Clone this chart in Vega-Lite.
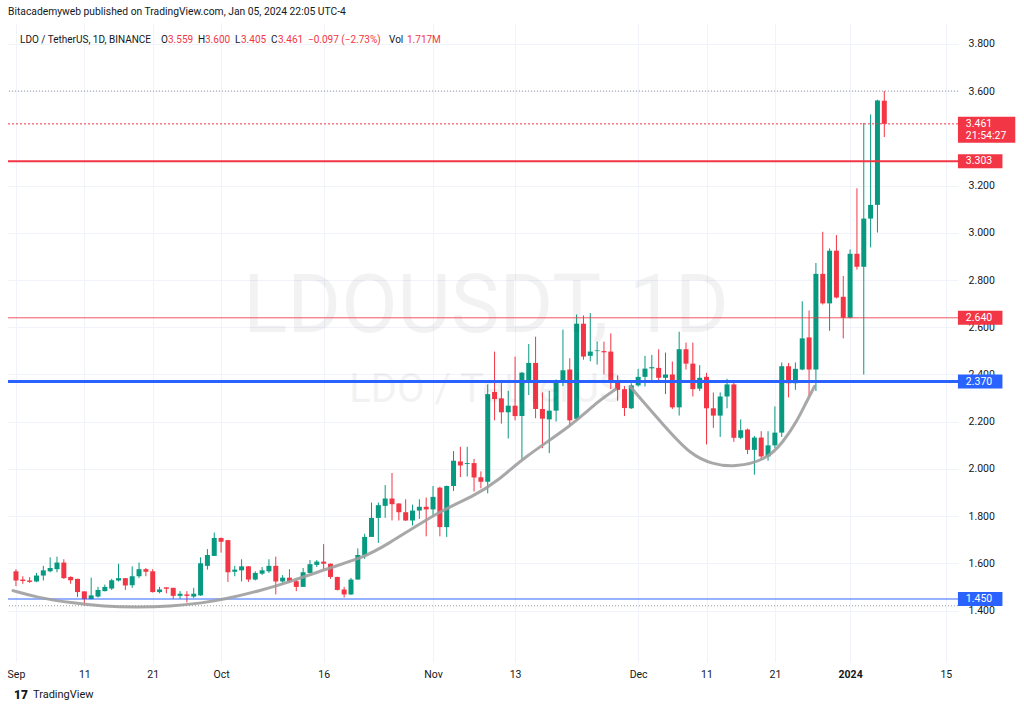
{
  "$schema": "https://vega.github.io/schema/vega-lite/v6.json",
  "width": 950,
  "height": 639,
  "autosize": {"type": "none"},
  "padding": {"left": 8, "top": 23, "right": 66, "bottom": 54},
  "background": "#ffffff",
  "config": {"view": {"stroke": null}, "font": "Roboto", "text": {"font": "Roboto"}},
  "title": {"text": "Bitacademyweb published on TradingView.com, Jan 05, 2024 22:05 UTC-4", "anchor": "start", "frame": "group", "fontSize": 10.3, "fontWeight": "normal", "color": "#131722", "offset": 6, "font": "Roboto"},
  "data": {"values": [{}]},
  "datasets": {
    "candles": [
      {"date":"2023-09-01","open":1.567,"high":1.576,"low":1.504,"close":1.528},
      {"date":"2023-09-02","open":1.532,"high":1.546,"low":1.514,"close":1.526},
      {"date":"2023-09-03","open":1.528,"high":1.542,"low":1.518,"close":1.522},
      {"date":"2023-09-04","open":1.524,"high":1.560,"low":1.521,"close":1.549},
      {"date":"2023-09-05","open":1.549,"high":1.590,"low":1.528,"close":1.571},
      {"date":"2023-09-06","open":1.567,"high":1.626,"low":1.563,"close":1.581},
      {"date":"2023-09-07","open":1.576,"high":1.629,"low":1.563,"close":1.604},
      {"date":"2023-09-08","open":1.604,"high":1.618,"low":1.535,"close":1.538},
      {"date":"2023-09-09","open":1.543,"high":1.546,"low":1.514,"close":1.529},
      {"date":"2023-09-10","open":1.535,"high":1.535,"low":1.458,"close":1.479},
      {"date":"2023-09-11","open":1.482,"high":1.482,"low":1.421,"close":1.449},
      {"date":"2023-09-12","open":1.449,"high":1.540,"low":1.449,"close":1.465},
      {"date":"2023-09-13","open":1.460,"high":1.501,"low":1.456,"close":1.488},
      {"date":"2023-09-14","open":1.483,"high":1.511,"low":1.482,"close":1.501},
      {"date":"2023-09-15","open":1.494,"high":1.535,"low":1.488,"close":1.529},
      {"date":"2023-09-16","open":1.528,"high":1.599,"low":1.524,"close":1.538},
      {"date":"2023-09-17","open":1.538,"high":1.538,"low":1.488,"close":1.507},
      {"date":"2023-09-18","open":1.508,"high":1.588,"low":1.497,"close":1.546},
      {"date":"2023-09-19","open":1.546,"high":1.604,"low":1.538,"close":1.576},
      {"date":"2023-09-20","open":1.576,"high":1.581,"low":1.546,"close":1.565},
      {"date":"2023-09-21","open":1.567,"high":1.576,"low":1.477,"close":1.479},
      {"date":"2023-09-22","open":1.479,"high":1.501,"low":1.474,"close":1.490},
      {"date":"2023-09-23","open":1.499,"high":1.499,"low":1.474,"close":1.493},
      {"date":"2023-09-24","open":1.497,"high":1.497,"low":1.451,"close":1.463},
      {"date":"2023-09-25","open":1.463,"high":1.483,"low":1.451,"close":1.472},
      {"date":"2023-09-26","open":1.469,"high":1.483,"low":1.435,"close":1.463},
      {"date":"2023-09-27","open":1.460,"high":1.497,"low":1.454,"close":1.472},
      {"date":"2023-09-28","open":1.465,"high":1.626,"low":1.463,"close":1.601},
      {"date":"2023-09-29","open":1.590,"high":1.661,"low":1.574,"close":1.636},
      {"date":"2023-09-30","open":1.632,"high":1.731,"low":1.632,"close":1.708},
      {"date":"2023-10-01","open":1.708,"high":1.710,"low":1.646,"close":1.692},
      {"date":"2023-10-02","open":1.699,"high":1.700,"low":1.522,"close":1.563},
      {"date":"2023-10-03","open":1.565,"high":1.590,"low":1.546,"close":1.574},
      {"date":"2023-10-04","open":1.571,"high":1.618,"low":1.524,"close":1.588},
      {"date":"2023-10-05","open":1.588,"high":1.589,"low":1.522,"close":1.532},
      {"date":"2023-10-06","open":1.532,"high":1.567,"low":1.528,"close":1.560},
      {"date":"2023-10-07","open":1.557,"high":1.585,"low":1.551,"close":1.571},
      {"date":"2023-10-08","open":1.567,"high":1.618,"low":1.560,"close":1.590},
      {"date":"2023-10-09","open":1.590,"high":1.629,"low":1.469,"close":1.524},
      {"date":"2023-10-10","open":1.524,"high":1.551,"low":1.518,"close":1.540},
      {"date":"2023-10-11","open":1.540,"high":1.576,"low":1.518,"close":1.524},
      {"date":"2023-10-12","open":1.525,"high":1.532,"low":1.483,"close":1.501},
      {"date":"2023-10-13","open":1.501,"high":1.581,"low":1.501,"close":1.563},
      {"date":"2023-10-14","open":1.560,"high":1.615,"low":1.560,"close":1.597},
      {"date":"2023-10-15","open":1.594,"high":1.615,"low":1.585,"close":1.608},
      {"date":"2023-10-16","open":1.608,"high":1.682,"low":1.576,"close":1.599},
      {"date":"2023-10-17","open":1.599,"high":1.600,"low":1.535,"close":1.543},
      {"date":"2023-10-18","open":1.543,"high":1.544,"low":1.486,"close":1.488},
      {"date":"2023-10-19","open":1.490,"high":1.501,"low":1.456,"close":1.469},
      {"date":"2023-10-20","open":1.469,"high":1.539,"low":1.467,"close":1.532},
      {"date":"2023-10-21","open":1.532,"high":1.664,"low":1.532,"close":1.636},
      {"date":"2023-10-22","open":1.636,"high":1.726,"low":1.620,"close":1.7125},
      {"date":"2023-10-23","open":1.7125,"high":1.858,"low":1.7125,"close":1.793},
      {"date":"2023-10-24","open":1.793,"high":1.858,"low":1.6875,"close":1.847},
      {"date":"2023-10-25","open":1.844,"high":1.932,"low":1.793,"close":1.875},
      {"date":"2023-10-26","open":1.875,"high":1.983,"low":1.782,"close":1.851},
      {"date":"2023-10-27","open":1.854,"high":1.855,"low":1.782,"close":1.817},
      {"date":"2023-10-28","open":1.817,"high":1.872,"low":1.780,"close":1.782},
      {"date":"2023-10-29","open":1.782,"high":1.849,"low":1.761,"close":1.824},
      {"date":"2023-10-30","open":1.824,"high":1.872,"low":1.789,"close":1.840},
      {"date":"2023-10-31","open":1.840,"high":1.879,"low":1.715,"close":1.829},
      {"date":"2023-11-01","open":1.829,"high":1.928,"low":1.799,"close":1.882},
      {"date":"2023-11-02","open":1.921,"high":1.925,"low":1.715,"close":1.754},
      {"date":"2023-11-03","open":1.754,"high":1.930,"low":1.7125,"close":1.928},
      {"date":"2023-11-04","open":1.928,"high":2.076,"low":1.907,"close":2.035},
      {"date":"2023-11-05","open":2.032,"high":2.094,"low":1.966,"close":2.015},
      {"date":"2023-11-06","open":2.021,"high":2.094,"low":1.968,"close":2.025},
      {"date":"2023-11-07","open":2.025,"high":2.043,"low":1.905,"close":1.964},
      {"date":"2023-11-08","open":1.965,"high":1.990,"low":1.918,"close":1.946},
      {"date":"2023-11-09","open":1.946,"high":2.358,"low":1.897,"close":2.317},
      {"date":"2023-11-10","open":2.326,"high":2.497,"low":2.206,"close":2.296},
      {"date":"2023-11-11","open":2.299,"high":2.372,"low":2.192,"close":2.240},
      {"date":"2023-11-12","open":2.240,"high":2.331,"low":2.129,"close":2.268},
      {"date":"2023-11-13","open":2.268,"high":2.476,"low":2.206,"close":2.224},
      {"date":"2023-11-14","open":2.224,"high":2.410,"low":2.043,"close":2.407},
      {"date":"2023-11-15","open":2.365,"high":2.529,"low":2.313,"close":2.449},
      {"date":"2023-11-16","open":2.449,"high":2.560,"low":2.215,"close":2.254},
      {"date":"2023-11-17","open":2.254,"high":2.324,"low":2.088,"close":2.213},
      {"date":"2023-11-18","open":2.210,"high":2.331,"low":2.067,"close":2.247},
      {"date":"2023-11-19","open":2.247,"high":2.379,"low":2.201,"close":2.372},
      {"date":"2023-11-20","open":2.368,"high":2.590,"low":2.351,"close":2.418},
      {"date":"2023-11-21","open":2.421,"high":2.469,"low":2.185,"close":2.206},
      {"date":"2023-11-22","open":2.2125,"high":2.654,"low":2.2056,"close":2.615},
      {"date":"2023-11-23","open":2.615,"high":2.650,"low":2.4625,"close":2.476},
      {"date":"2023-11-24","open":2.479,"high":2.660,"low":2.456,"close":2.497},
      {"date":"2023-11-25","open":2.499,"high":2.539,"low":2.442,"close":2.502},
      {"date":"2023-11-26","open":2.499,"high":2.539,"low":2.400,"close":2.494},
      {"date":"2023-11-27","open":2.497,"high":2.574,"low":2.338,"close":2.365},
      {"date":"2023-11-28","open":2.365,"high":2.396,"low":2.289,"close":2.335},
      {"date":"2023-11-29","open":2.338,"high":2.351,"low":2.224,"close":2.258},
      {"date":"2023-11-30","open":2.257,"high":2.363,"low":2.254,"close":2.354},
      {"date":"2023-12-01","open":2.354,"high":2.424,"low":2.349,"close":2.390},
      {"date":"2023-12-02","open":2.390,"high":2.479,"low":2.349,"close":2.425},
      {"date":"2023-12-03","open":2.426,"high":2.483,"low":2.372,"close":2.431},
      {"date":"2023-12-04","open":2.428,"high":2.507,"low":2.372,"close":2.386},
      {"date":"2023-12-05","open":2.386,"high":2.493,"low":2.317,"close":2.400},
      {"date":"2023-12-06","open":2.400,"high":2.455,"low":2.254,"close":2.261},
      {"date":"2023-12-07","open":2.261,"high":2.581,"low":2.226,"close":2.507},
      {"date":"2023-12-08","open":2.507,"high":2.535,"low":2.421,"close":2.446},
      {"date":"2023-12-09","open":2.446,"high":2.535,"low":2.307,"close":2.338},
      {"date":"2023-12-10","open":2.340,"high":2.440,"low":2.330,"close":2.386},
      {"date":"2023-12-11","open":2.390,"high":2.407,"low":2.104,"close":2.257},
      {"date":"2023-12-12","open":2.257,"high":2.324,"low":2.174,"close":2.226},
      {"date":"2023-12-13","open":2.226,"high":2.324,"low":2.136,"close":2.307},
      {"date":"2023-12-14","open":2.307,"high":2.382,"low":2.257,"close":2.358},
      {"date":"2023-12-15","open":2.358,"high":2.365,"low":2.115,"close":2.132},
      {"date":"2023-12-16","open":2.132,"high":2.210,"low":2.126,"close":2.164},
      {"date":"2023-12-17","open":2.167,"high":2.171,"low":2.063,"close":2.081},
      {"date":"2023-12-18","open":2.081,"high":2.140,"low":1.976,"close":2.133},
      {"date":"2023-12-19","open":2.133,"high":2.160,"low":2.039,"close":2.053},
      {"date":"2023-12-20","open":2.053,"high":2.160,"low":2.035,"close":2.100},
      {"date":"2023-12-21","open":2.100,"high":2.265,"low":2.088,"close":2.154},
      {"date":"2023-12-22","open":2.154,"high":2.451,"low":2.136,"close":2.435},
      {"date":"2023-12-23","open":2.435,"high":2.449,"low":2.303,"close":2.363},
      {"date":"2023-12-24","open":2.363,"high":2.451,"low":2.335,"close":2.424},
      {"date":"2023-12-25","open":2.421,"high":2.710,"low":2.418,"close":2.553},
      {"date":"2023-12-26","open":2.557,"high":2.671,"low":2.310,"close":2.421},
      {"date":"2023-12-27","open":2.421,"high":2.872,"low":2.330,"close":2.826},
      {"date":"2023-12-28","open":2.826,"high":3.004,"low":2.696,"close":2.701},
      {"date":"2023-12-29","open":2.701,"high":2.934,"low":2.585,"close":2.924},
      {"date":"2023-12-30","open":2.924,"high":2.990,"low":2.722,"close":2.726},
      {"date":"2023-12-31","open":2.729,"high":2.817,"low":2.553,"close":2.640},
      {"date":"2024-01-01","open":2.640,"high":2.929,"low":2.638,"close":2.911},
      {"date":"2024-01-02","open":2.911,"high":3.188,"low":2.844,"close":2.856},
      {"date":"2024-01-03","open":2.856,"high":3.465,"low":2.400,"close":3.060},
      {"date":"2024-01-04","open":3.060,"high":3.501,"low":2.938,"close":3.118},
      {"date":"2024-01-05","open":3.118,"high":3.563,"low":3.001,"close":3.560},
      {"date":"2024-01-06","open":3.559,"high":3.600,"low":3.405,"close":3.461}
    ],
    "cups": [
      {"cup":"long","t":"2023-08-31T13:35:00Z","v":1.4854},
      {"cup":"long","t":"2023-09-04T04:20:00Z","v":1.4554},
      {"cup":"long","t":"2023-09-09T01:30:00Z","v":1.4333},
      {"cup":"long","t":"2023-09-13T21:00:00Z","v":1.418},
      {"cup":"long","t":"2023-09-18T15:50:00Z","v":1.414},
      {"cup":"long","t":"2023-09-23T12:45:00Z","v":1.418},
      {"cup":"long","t":"2023-09-28T08:25:00Z","v":1.433},
      {"cup":"long","t":"2023-10-01T16:20:00Z","v":1.45},
      {"cup":"long","t":"2023-10-06T13:25:00Z","v":1.4833},
      {"cup":"long","t":"2023-10-11T09:00:00Z","v":1.525},
      {"cup":"long","t":"2023-10-16T03:40:00Z","v":1.575},
      {"cup":"long","t":"2023-10-21T12:10:00Z","v":1.6221},
      {"cup":"long","t":"2023-10-24T20:00:00Z","v":1.6708},
      {"cup":"long","t":"2023-11-02T02:00:00Z","v":1.825},
      {"cup":"long","t":"2023-11-06T16:00:00Z","v":1.8792},
      {"cup":"long","t":"2023-11-10T18:30:00Z","v":1.9554},
      {"cup":"long","t":"2023-11-14T02:25:00Z","v":2.0458},
      {"cup":"long","t":"2023-11-21T08:00:00Z","v":2.1846},
      {"cup":"long","t":"2023-11-25T04:50:00Z","v":2.2888},
      {"cup":"long","t":"2023-11-27T16:50:00Z","v":2.3375},
      {"cup":"short","t":"2023-11-29T20:00:00Z","v":2.3488},
      {"cup":"short","t":"2023-12-04T21:20:00Z","v":2.1792},
      {"cup":"short","t":"2023-12-08T16:50:00Z","v":2.0596},
      {"cup":"short","t":"2023-12-11T21:00:00Z","v":2.0208},
      {"cup":"short","t":"2023-12-15T00:30:00Z","v":2.007},
      {"cup":"short","t":"2023-12-19T20:10:00Z","v":2.0388},
      {"cup":"short","t":"2023-12-22T06:15:00Z","v":2.1167},
      {"cup":"short","t":"2023-12-24T04:20:00Z","v":2.2},
      {"cup":"short","t":"2023-12-25T14:25:00Z","v":2.2833},
      {"cup":"short","t":"2023-12-26T19:10:00Z","v":2.35}
    ],
    "levels": [
      {"price":3.303,"label":"3.303","side":"resistance"},
      {"price":2.64,"label":"2.640","side":"resistance"},
      {"price":2.37,"label":"2.370","side":"support"},
      {"price":1.45,"label":"1.450","side":"support"}
    ]
  },
  "layer": [
    {
      "data": {"name": "candles"},
      "encoding": {
        "x": {
          "field": "date", "type": "temporal", "title": null,
          "scale": {"type": "utc", "domain": [
            {"year":2023,"month":8,"date":31,"hours":13,"minutes":35,"utc":true},
            {"year":2024,"month":1,"date":16,"hours":1,"minutes":12,"utc":true}]},
          "axis": {
            "title": null,
            "values": [
              {"year":2023,"month":9,"date":1,"utc":true},
              {"year":2023,"month":9,"date":11,"utc":true},
              {"year":2023,"month":9,"date":21,"utc":true},
              {"year":2023,"month":10,"date":1,"utc":true},
              {"year":2023,"month":10,"date":16,"utc":true},
              {"year":2023,"month":11,"date":1,"utc":true},
              {"year":2023,"month":11,"date":13,"utc":true},
              {"year":2023,"month":12,"date":1,"utc":true},
              {"year":2023,"month":12,"date":11,"utc":true},
              {"year":2023,"month":12,"date":21,"utc":true},
              {"year":2024,"month":1,"date":1,"utc":true},
              {"year":2024,"month":1,"date":15,"utc":true}
            ],
            "labelExpr": "utcdate(datum.value) == 1 ? (utcmonth(datum.value) == 0 ? utcFormat(datum.value, '%Y') : utcFormat(datum.value, '%b')) : utcFormat(datum.value, '%d')",
            "labelFontWeight": {"condition": {"test": "utcdate(datum.value) == 1 && utcmonth(datum.value) == 0", "value": "bold"}, "value": "normal"},
            "labelFlush": false, "labelOverlap": false, "labelBound": false, "labelAlign": "center",
            "grid": true, "gridColor": "#f0f3fa", "gridWidth": 1,
            "domain": false, "ticks": false,
            "labelPadding": 7, "labelFontSize": 10.5, "labelColor": "#131722", "labelFont": "Roboto"
          }
        },
        "color": {"condition": {"test": "datum.close >= datum.open", "value": "#089981"}, "value": "#f23645"}
      },
      "layer": [
        {
          "mark": {"type": "rule", "strokeWidth": 1},
          "encoding": {
            "y": {
              "field": "low", "type": "quantitative", "title": null,
              "scale": {"domain": [1.2042, 3.8667], "nice": false, "zero": false},
              "axis": {
                "orient": "right", "title": null,
                "values": [1.4, 1.6, 1.8, 2.0, 2.2, 2.4, 2.6, 2.8, 3.0, 3.2, 3.6, 3.8],
                "format": ".3f", "grid": true, "gridColor": "#f0f3fa",
                "domain": false, "ticks": false, "labelPadding": 10,
                "labelFontSize": 10.5, "labelColor": "#131722", "labelFont": "Roboto"
              }
            },
            "y2": {"field": "high"}
          }
        },
        {
          "mark": {"type": "bar", "size": 5},
          "encoding": {
            "y": {"field": "open", "type": "quantitative", "title": null},
            "y2": {"field": "close"}
          }
        }
      ]
    },
    {
      "mark": {"type": "text", "fontSize": 82, "color": "#131722", "opacity": 0.05, "align": "center", "baseline": "alphabetic", "clip": false},
      "encoding": {
        "x": {"datum": {"year":2023,"month":11,"date":8,"hours":17,"minutes":45,"utc":true}, "type": "temporal"},
        "y": {"datum": 2.5792, "type": "quantitative"},
        "text": {"value": "LDOUSDT, 1D"}
      }
    },
    {
      "mark": {"type": "text", "fontSize": 40, "color": "#131722", "opacity": 0.05, "align": "center", "baseline": "alphabetic", "clip": false},
      "encoding": {
        "x": {"datum": {"year":2023,"month":11,"date":8,"hours":17,"minutes":45,"utc":true}, "type": "temporal"},
        "y": {"datum": 2.2833, "type": "quantitative"},
        "text": {"value": "LDO / TetherUS"}
      }
    },
    {
      "mark": {"type": "rule", "color": "#9598a1", "strokeWidth": 1, "strokeDash": [1, 2]},
      "encoding": {"y": {"datum": 3.6, "type": "quantitative"}}
    },
    {
      "mark": {"type": "rule", "color": "#9598a1", "strokeWidth": 1, "strokeDash": [1, 2]},
      "encoding": {"y": {"datum": 1.421, "type": "quantitative"}}
    },
    {
      "mark": {"type": "rule", "color": "#f23645", "strokeWidth": 1, "strokeDash": [2, 2]},
      "encoding": {"y": {"datum": 3.461, "type": "quantitative"}}
    },
    {
      "mark": {"type": "rule", "color": "#f23645", "strokeWidth": 2},
      "encoding": {"y": {"datum": 3.303, "type": "quantitative"}}
    },
    {
      "mark": {"type": "rule", "color": "#f23645", "strokeWidth": 1, "opacity": 0.85},
      "encoding": {"y": {"datum": 2.64, "type": "quantitative"}}
    },
    {
      "mark": {"type": "rule", "color": "#2962ff", "strokeWidth": 3},
      "encoding": {"y": {"datum": 2.37, "type": "quantitative"}}
    },
    {
      "mark": {"type": "rule", "color": "#2962ff", "strokeWidth": 1.5, "opacity": 0.65},
      "encoding": {"y": {"datum": 1.45, "type": "quantitative"}}
    },
    {
      "data": {"name": "cups"},
      "mark": {"type": "line", "interpolate": "basis", "color": "#9e9e9e", "strokeWidth": 3, "opacity": 0.9, "strokeCap": "round"},
      "encoding": {
        "x": {"field": "t", "type": "temporal", "title": null},
        "y": {"field": "v", "type": "quantitative", "title": null},
        "detail": {"field": "cup"}
      }
    },
    {
      "data": {"name": "levels"},
      "mark": {"type": "bar", "size": 14, "clip": false},
      "encoding": {
        "x": {"datum": {"year":2024,"month":1,"date":16,"hours":18,"minutes":30,"utc":true}, "type": "temporal"},
        "x2": {"datum": {"year":2024,"month":1,"date":23,"hours":6,"minutes":45,"utc":true}},
        "y": {"field": "price", "type": "quantitative", "title": null},
        "color": {"field": "side", "type": "nominal", "scale": {"domain": ["resistance", "support"], "range": ["#f23645", "#2962ff"]}, "legend": null}
      }
    },
    {
      "mark": {"type": "bar", "size": 26, "clip": false, "color": "#f23645"},
      "encoding": {
        "x": {"datum": {"year":2024,"month":1,"date":16,"hours":18,"minutes":30,"utc":true}, "type": "temporal"},
        "x2": {"datum": {"year":2024,"month":1,"date":25,"hours":3,"minutes":50,"utc":true}},
        "y": {"datum": 3.4363, "type": "quantitative"}
      }
    },
    {
      "data": {"name": "levels"},
      "mark": {"type": "text", "color": "#ffffff", "fontSize": 10.5, "align": "left", "baseline": "middle", "clip": false},
      "encoding": {
        "x": {"datum": {"year":2024,"month":1,"date":17,"hours":22,"minutes":20,"utc":true}, "type": "temporal"},
        "y": {"field": "price", "type": "quantitative", "title": null},
        "text": {"field": "label"}
      }
    },
    {
      "mark": {"type": "text", "color": "#ffffff", "fontSize": 10.5, "align": "left", "baseline": "middle", "clip": false},
      "encoding": {
        "x": {"datum": {"year":2024,"month":1,"date":17,"hours":22,"minutes":20,"utc":true}, "type": "temporal"},
        "y": {"datum": 3.461, "type": "quantitative"},
        "text": {"value": "3.461"}
      }
    },
    {
      "mark": {"type": "text", "color": "#ffffff", "fontSize": 10.5, "align": "left", "baseline": "middle", "clip": false},
      "encoding": {
        "x": {"datum": {"year":2024,"month":1,"date":17,"hours":22,"minutes":20,"utc":true}, "type": "temporal"},
        "y": {"datum": 3.4083, "type": "quantitative"},
        "text": {"value": "21:54:27"}
      }
    },
    {
      "mark": {"type": "text", "color": "#131722", "fontSize": 10, "align": "left", "baseline": "middle", "dx": 7, "clip": false},
      "encoding": {
        "x": {"datum": {"year":2023,"month":8,"date":31,"hours":13,"minutes":35,"utc":true}, "type": "temporal"},
        "y": {"datum": 3.8167, "type": "quantitative"},
        "text": {"value": "LDO / TetherUS, 1D, BINANCE"}
      }
    },
    {
      "mark": {"type": "text", "color": "#131722", "fontSize": 10, "align": "left", "baseline": "middle", "dx": 148, "clip": false},
      "encoding": {
        "x": {"datum": {"year":2023,"month":8,"date":31,"hours":13,"minutes":35,"utc":true}, "type": "temporal"},
        "y": {"datum": 3.8167, "type": "quantitative"},
        "text": {"value": "O"}
      }
    },
    {
      "mark": {"type": "text", "color": "#f23645", "fontSize": 10, "align": "left", "baseline": "middle", "dx": 155, "clip": false},
      "encoding": {
        "x": {"datum": {"year":2023,"month":8,"date":31,"hours":13,"minutes":35,"utc":true}, "type": "temporal"},
        "y": {"datum": 3.8167, "type": "quantitative"},
        "text": {"value": "3.559"}
      }
    },
    {
      "mark": {"type": "text", "color": "#131722", "fontSize": 10, "align": "left", "baseline": "middle", "dx": 185, "clip": false},
      "encoding": {
        "x": {"datum": {"year":2023,"month":8,"date":31,"hours":13,"minutes":35,"utc":true}, "type": "temporal"},
        "y": {"datum": 3.8167, "type": "quantitative"},
        "text": {"value": "H"}
      }
    },
    {
      "mark": {"type": "text", "color": "#f23645", "fontSize": 10, "align": "left", "baseline": "middle", "dx": 192, "clip": false},
      "encoding": {
        "x": {"datum": {"year":2023,"month":8,"date":31,"hours":13,"minutes":35,"utc":true}, "type": "temporal"},
        "y": {"datum": 3.8167, "type": "quantitative"},
        "text": {"value": "3.600"}
      }
    },
    {
      "mark": {"type": "text", "color": "#131722", "fontSize": 10, "align": "left", "baseline": "middle", "dx": 222, "clip": false},
      "encoding": {
        "x": {"datum": {"year":2023,"month":8,"date":31,"hours":13,"minutes":35,"utc":true}, "type": "temporal"},
        "y": {"datum": 3.8167, "type": "quantitative"},
        "text": {"value": "L"}
      }
    },
    {
      "mark": {"type": "text", "color": "#f23645", "fontSize": 10, "align": "left", "baseline": "middle", "dx": 228, "clip": false},
      "encoding": {
        "x": {"datum": {"year":2023,"month":8,"date":31,"hours":13,"minutes":35,"utc":true}, "type": "temporal"},
        "y": {"datum": 3.8167, "type": "quantitative"},
        "text": {"value": "3.405"}
      }
    },
    {
      "mark": {"type": "text", "color": "#131722", "fontSize": 10, "align": "left", "baseline": "middle", "dx": 258, "clip": false},
      "encoding": {
        "x": {"datum": {"year":2023,"month":8,"date":31,"hours":13,"minutes":35,"utc":true}, "type": "temporal"},
        "y": {"datum": 3.8167, "type": "quantitative"},
        "text": {"value": "C"}
      }
    },
    {
      "mark": {"type": "text", "color": "#f23645", "fontSize": 10, "align": "left", "baseline": "middle", "dx": 265, "clip": false},
      "encoding": {
        "x": {"datum": {"year":2023,"month":8,"date":31,"hours":13,"minutes":35,"utc":true}, "type": "temporal"},
        "y": {"datum": 3.8167, "type": "quantitative"},
        "text": {"value": "3.461"}
      }
    },
    {
      "mark": {"type": "text", "color": "#f23645", "fontSize": 10, "align": "left", "baseline": "middle", "dx": 295, "clip": false},
      "encoding": {
        "x": {"datum": {"year":2023,"month":8,"date":31,"hours":13,"minutes":35,"utc":true}, "type": "temporal"},
        "y": {"datum": 3.8167, "type": "quantitative"},
        "text": {"value": "−0.097 (−2.73%)"}
      }
    },
    {
      "mark": {"type": "text", "color": "#131722", "fontSize": 10, "align": "left", "baseline": "middle", "dx": 376, "clip": false},
      "encoding": {
        "x": {"datum": {"year":2023,"month":8,"date":31,"hours":13,"minutes":35,"utc":true}, "type": "temporal"},
        "y": {"datum": 3.8167, "type": "quantitative"},
        "text": {"value": "Vol"}
      }
    },
    {
      "mark": {"type": "text", "color": "#f23645", "fontSize": 10, "align": "left", "baseline": "middle", "dx": 394, "clip": false},
      "encoding": {
        "x": {"datum": {"year":2023,"month":8,"date":31,"hours":13,"minutes":35,"utc":true}, "type": "temporal"},
        "y": {"datum": 3.8167, "type": "quantitative"},
        "text": {"value": "1.717M"}
      }
    },
    {
      "mark": {"type": "text", "color": "#131722", "fontSize": 12, "fontWeight": 900, "align": "left", "baseline": "middle", "dx": 1, "clip": false},
      "encoding": {
        "x": {"datum": {"year":2023,"month":8,"date":31,"hours":13,"minutes":35,"utc":true}, "type": "temporal"},
        "y": {"datum": 1.0417, "type": "quantitative"},
        "text": {"value": "17"}
      }
    },
    {
      "mark": {"type": "text", "color": "#131722", "fontSize": 11, "align": "left", "baseline": "middle", "dx": 20, "clip": false},
      "encoding": {
        "x": {"datum": {"year":2023,"month":8,"date":31,"hours":13,"minutes":35,"utc":true}, "type": "temporal"},
        "y": {"datum": 1.0417, "type": "quantitative"},
        "text": {"value": "TradingView"}
      }
    }
  ]
}
